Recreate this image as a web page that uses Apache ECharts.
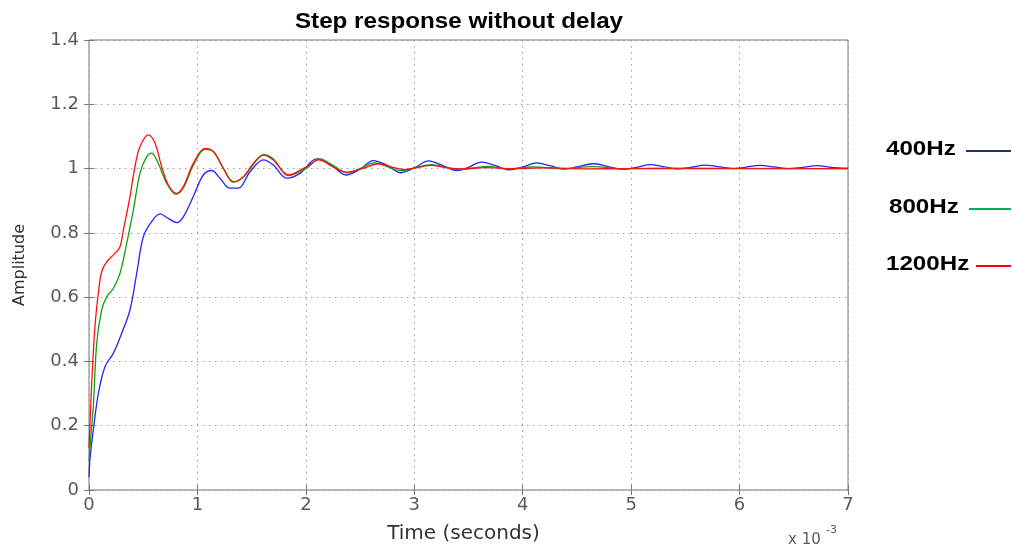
<!DOCTYPE html>
<html><head><meta charset="utf-8">
<script src="https://cdn.jsdelivr.net/npm/echarts@6/dist/echarts.min.js"></script>
<style>html,body{margin:0;padding:0;background:#fff}#c{width:1012px;height:550px}</style>
</head><body><div id="c"></div>
<script>
// time in ms (axis shows x 10^-3 s)
const seriesNames = ['400Hz', '800Hz', '1200Hz'];
const xTicks = [0, 1, 2, 3, 4, 5, 6, 7];
const yTicks = [0, 0.2, 0.4, 0.6, 0.8, 1, 1.2, 1.4];

const resp400 = [[0,0.04],[0.01,0.10],[0.04,0.187],[0.086,0.30],[0.148,0.384],[0.224,0.425],[0.302,0.488],[0.378,0.56],[0.44,0.674],[0.501,0.788],[0.578,0.835],[0.655,0.859],[0.732,0.845],[0.809,0.832],[0.87,0.85],[0.962,0.913],[1.054,0.98],[1.132,0.994],[1.208,0.97],[1.30,0.939],[1.377,0.939],[1.485,0.99],[1.608,1.027],[1.70,1.011],[1.824,0.97],[1.946,0.985],[2.10,1.030],[2.23,1.012],[2.37,0.980],[2.50,0.998],[2.62,1.025],[2.75,1.010],[2.87,0.987],[3.0,1.002],[3.13,1.024],[3.26,1.010],[3.39,0.994],[3.50,1.004],[3.62,1.020],[3.75,1.009],[3.88,0.996],[4.0,1.005],[4.13,1.018],[4.25,1.009],[4.38,0.998],[4.5,1.005],[4.65,1.015],[4.78,1.007],[4.93,0.998],[5.05,1.004],[5.18,1.012],[5.30,1.006],[5.43,0.999],[5.55,1.004],[5.68,1.011],[5.80,1.006],[5.94,1.000],[6.05,1.004],[6.19,1.010],[6.32,1.005],[6.45,1.0],[6.58,1.004],[6.72,1.009],[6.85,1.004],[7.0,1.001]];

const resp800 = [[0,0.09],[0.02,0.18],[0.04,0.259],[0.071,0.456],[0.117,0.56],[0.163,0.601],[0.224,0.627],[0.286,0.674],[0.348,0.768],[0.409,0.871],[0.47,0.985],[0.532,1.037],[0.578,1.048],[0.639,1.016],[0.717,0.954],[0.80,0.92],[0.87,0.94],[0.962,1.01],[1.07,1.06],[1.15,1.052],[1.24,1.0],[1.33,0.958],[1.42,0.972],[1.52,1.015],[1.61,1.043],[1.70,1.03],[1.84,0.978],[2.0,1.0],[2.13,1.03],[2.25,1.01],[2.38,0.987],[2.50,1.0],[2.63,1.018],[2.75,1.006],[2.87,0.994],[3.0,1.002],[3.16,1.012],[3.30,1.004],[3.40,0.997],[3.55,1.002],[3.68,1.007],[3.85,0.999],[4.1,1.005],[4.35,1.0],[4.65,1.006],[4.9,1.0],[5.3,1.001],[7.0,1.0]];

const resp1200 = [[0,0.13],[0.025,0.333],[0.055,0.508],[0.086,0.612],[0.117,0.679],[0.163,0.71],[0.24,0.736],[0.286,0.757],[0.317,0.809],[0.378,0.913],[0.424,1.006],[0.47,1.068],[0.547,1.105],[0.609,1.079],[0.67,1.006],[0.732,0.949],[0.809,0.923],[0.87,0.944],[0.962,1.016],[1.07,1.063],[1.147,1.053],[1.239,1.001],[1.331,0.959],[1.424,0.975],[1.516,1.016],[1.608,1.042],[1.70,1.027],[1.839,0.98],[2.008,1.006],[2.12,1.027],[2.25,1.005],[2.37,0.989],[2.52,1.0],[2.67,1.015],[2.80,1.004],[2.91,0.997],[3.03,1.003],[3.15,1.010],[3.30,1.002],[3.45,0.999],[3.65,1.003],[3.9,1.0],[4.2,1.002],[4.6,0.999],[5.0,1.0],[7.0,1.0]];

const lineColors = ['#2424ff', '#10a010', '#ff1010'];
const legendColors = ['#1f3370', '#00b050', '#ff0000'];

const chart = echarts.init(document.getElementById('c'), null, {renderer: 'canvas'});
const tickFont = {color: '#5a5a5a', fontFamily: 'DejaVu Sans', fontSize: 18};
const hiddenAxis = (pos) => ({
  position: pos, show: true,
  axisLine: {show: false}, axisLabel: {show: false}, splitLine: {show: false},
  axisTick: {show: true, inside: true, length: 5, lineStyle: {color: '#777'}}
});
const option = {
  animation: false,
  backgroundColor: '#fff',
  grid: {left: 89, right: 164, top: 40, bottom: 60, show: true, borderColor: '#777', borderWidth: 1},
  xAxis: [
    {type: 'value', min: xTicks[0], max: xTicks[xTicks.length-1], interval: 1, position: 'bottom',
      axisLine: {show: false}, axisTick: {show: true, inside: true, length: 5, lineStyle: {color: '#777'}},
      axisLabel: Object.assign({margin: 6}, tickFont),
      splitLine: {show: true, lineStyle: {color: '#9a9a9a', type: [1.5, 4.5], width: 1}},
      name: 'Time (seconds)', nameLocation: 'middle', nameGap: 34,
      nameTextStyle: {fontFamily: 'DejaVu Sans', fontSize: 20, color: '#333', padding: [0, 10, 0, 0]}},
    Object.assign({type: 'value', min: 0, max: 7, interval: 1}, hiddenAxis('top'))
  ],
  yAxis: [
    {type: 'value', min: yTicks[0], max: yTicks[yTicks.length-1], interval: 0.2, position: 'left',
      axisLine: {show: false}, axisTick: {show: true, inside: true, length: 5, lineStyle: {color: '#777'}},
      axisLabel: Object.assign({margin: 10}, tickFont),
      splitLine: {show: true, lineStyle: {color: '#9a9a9a', type: [1.5, 4.5], width: 1}},
      name: 'Amplitude', nameLocation: 'middle', nameGap: 61, nameRotate: 90,
      nameTextStyle: {fontFamily: 'DejaVu Sans', fontSize: 16, color: '#333'}},
    Object.assign({type: 'value', min: 0, max: 1.4, interval: 0.2}, hiddenAxis('right'))
  ],
  series: [resp400, resp800, resp1200].map((d, i) => ({
    name: seriesNames[i], type: 'line', data: d, showSymbol: false, smooth: 0.35,
    lineStyle: {color: lineColors[i], width: 1.3}, z: 2 + i
  })),
  graphic: [
    {type: 'text', x: 459, y: 22, scaleX: 1.1, style: {text: 'Step response without delay', align: 'center', verticalAlign: 'middle',
      fontFamily: 'Liberation Sans', fontWeight: 'bold', fontSize: 22, fill: '#000'}},
    {type: 'text', left: 788, top: 533, style: {text: 'x 10', fontFamily: 'DejaVu Sans', fontSize: 15, fill: '#5a5a5a'}},
    {type: 'text', left: 826, top: 525, style: {text: '-3', fontFamily: 'DejaVu Sans', fontSize: 11, fill: '#5a5a5a'}}
  ].concat(...seriesNames.map((n, i) => {
    const ys = [149, 207, 264];
    const tx = [886, 889, 886];
    const lx = [966, 969, 976];
    return [
      {type: 'text', x: tx[i], y: ys[i], scaleX: 1.15, style: {text: n, verticalAlign: 'middle', fontFamily: 'Liberation Sans', fontWeight: 'bold', fontSize: 21, fill: '#000'}},
      {type: 'line', shape: {x1: lx[i], y1: ys[i] + 2, x2: 1011, y2: ys[i] + 2}, style: {stroke: legendColors[i], lineWidth: 2}}
    ];
  }))
};
chart.setOption(option);
</script></body></html>
